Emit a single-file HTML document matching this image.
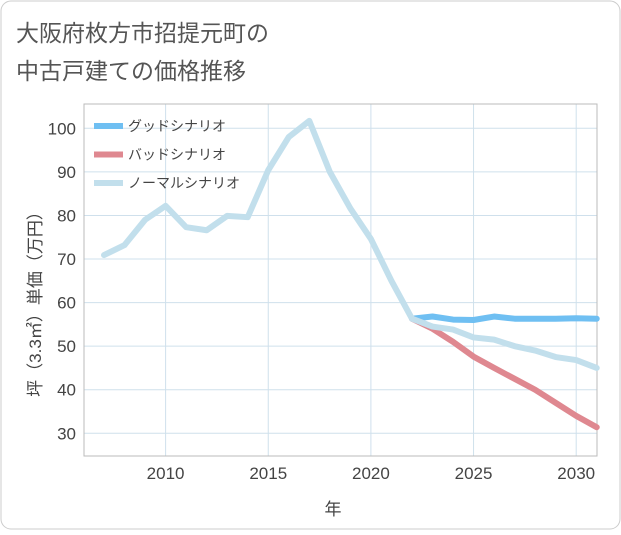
<!DOCTYPE html>
<html><head><meta charset="utf-8"><style>
body{margin:0;background:#fff;}
svg text{font-family:"Liberation Sans","Noto Sans CJK JP",sans-serif;}
</style></head><body>
<svg width="621" height="530" xmlns="http://www.w3.org/2000/svg">
<rect x="1" y="1" width="619" height="528" rx="10" fill="#fff" stroke="#ccc"/>
<text x="16" y="41" font-size="23" fill="#555">大阪府枚方市招提元町の</text>
<text x="16" y="79" font-size="23" fill="#555">中古戸建ての価格推移</text>
<g id="grid"></g>
<g id="series"></g>
<g id="legend"></g>
<text transform="translate(41,300) rotate(-90)" text-anchor="middle" font-size="17" fill="#444">坪（3.3㎡）単価（万円）</text>
<text x="333" y="515" text-anchor="middle" font-size="17" fill="#444">年</text>
</svg>
<script>
const yTicks=[30,40,50,60,70,80,90,100];
const xTicks=[2010,2015,2020,2025,2030];
const normalYears=[2007,2008,2009,2010,2011,2012,2013,2014,2015,2016,2017,2018,2019,2020,2021,2022,2023,2024,2025,2026,2027,2028,2029,2030,2031];
const normalVals=[70.9,73.2,79,82.2,77.3,76.6,79.9,79.6,90.4,98,101.7,90,81.6,74.6,65,56.3,54.5,53.8,52,51.5,50,49,47.5,46.8,45];
const futureYears=[2022,2023,2024,2025,2026,2027,2028,2029,2030,2031];
const goodVals=[56.3,56.8,56.1,56,56.8,56.3,56.3,56.3,56.4,56.3];
const badVals=[56.3,54,51,47.6,45,42.5,40,37,34,31.4];
const seriesNames=["グッドシナリオ","バッドシナリオ","ノーマルシナリオ"];
const L=84,R=597,T=104,B=456;
const x=yr=>165.6+(yr-2010)*20.53;
const y=v=>128.3+(100-v)*4.357;
const NS="http://www.w3.org/2000/svg";
function mk(tag,attrs,parent){const e=document.createElementNS(NS,tag);for(const k in attrs)e.setAttribute(k,attrs[k]);parent.appendChild(e);return e;}
const g=document.getElementById('grid');
for(const t of yTicks){
 const l=mk('line',{x1:L,x2:R,y1:y(t),y2:y(t),stroke:'#cfe0ec','stroke-width':1},g);
 
 
 const tx=mk('text',{x:L-8,y:y(t)+6,'text-anchor':'end','font-size':17,fill:'#444'},g);
 tx.textContent=t;
 
 
}
for(const t of xTicks){
 const l=mk('line',{x1:x(t),x2:x(t),y1:T,y2:B,stroke:'#cfe0ec','stroke-width':1},g);
 
 
 const tx=mk('text',{x:x(t),y:B+23,'text-anchor':'middle','font-size':17,fill:'#444'},g);
 tx.textContent=t;
 
 
}
const frame=mk('rect',{x:L,y:T,width:R-L,height:B-T,fill:'none',stroke:'#bbb'},g);


const s=document.getElementById('series');
function line(ys,vs,color,name){
 const p=mk('polyline',{points:ys.map((yr,i)=>x(yr)+','+y(vs[i])).join(' '),fill:'none',stroke:color,'stroke-width':6,'stroke-linejoin':'round','stroke-linecap':'round'},s);
 
 
}
line(futureYears,goodVals,'#6fbff2','good-scenario-line');
line(futureYears,badVals,'#df8890','bad-scenario-line');
line(normalYears,normalVals,'#c2dfec','normal-scenario-line');
const lg=document.getElementById('legend');
const cols=['#6fbff2','#df8890','#c2dfec'];
seriesNames.forEach((n,i)=>{
 const yy=126+i*28.5;
 const r=mk('line',{x1:94,x2:123,y1:yy,y2:yy,stroke:cols[i],'stroke-width':6},lg);
 
 
 const t=mk('text',{x:128,y:yy+5,'font-size':14,fill:'#444'},lg);
 t.textContent=n;
 
 
});
</script>
</body></html>
